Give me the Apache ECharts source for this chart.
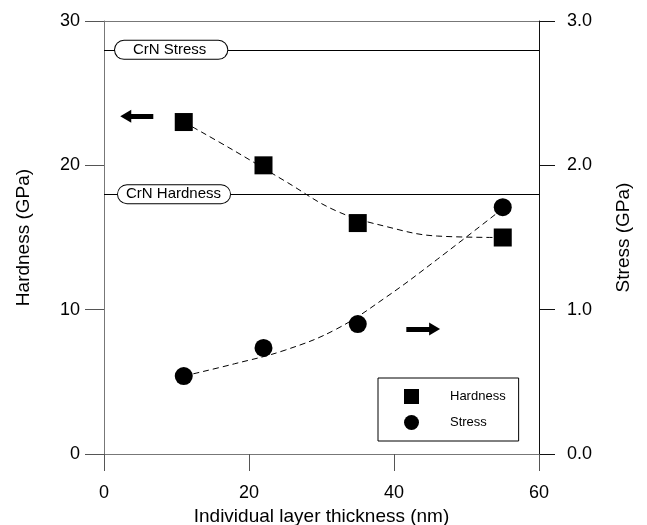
<!DOCTYPE html>
<html><head><meta charset="utf-8">
<script src="https://cdn.jsdelivr.net/npm/echarts@6/dist/echarts.min.js"></script>
<style>html,body{margin:0;padding:0;background:#fff}#c{width:647px;height:525px}</style>
</head><body><div id="c"></div>
<script>
// ---- data ----
const thickness = [11, 22, 35, 55];
const hardness = [23.0, 20.0, 16.0, 15.0];
const stress = [0.54, 0.735, 0.90, 1.71];
const hardnessFitX = [11, 18, 25, 32, 39, 46, 55];
const hardnessFitY = [23.0, 21.0, 18.9, 16.85, 15.75, 15.1, 15.0];
const stressFitX = [11, 18, 25, 32, 39, 46, 55];
const stressFitY = [0.54, 0.625, 0.72, 0.864, 1.09, 1.35, 1.70];
const crnHardness = 18;   // reference line, hardness axis
const crnStress = 2.8;    // reference line, stress axis
const xTicks = [0, 20, 40, 60];
const hardnessTicks = [0, 10, 20, 30];
const stressTicks = ['0.0', '1.0', '2.0', '3.0'];
const arrowHardness = [[6.8, 23.4], [3.0, 23.4]];   // hardness axis units
const arrowStress = [[41.7, 0.866], [45.6, 0.866]]; // stress axis units

const FONT = "'Liberation Sans', Arial, sans-serif";
const zip = (a, b) => a.map((v, i) => [v, b[i]]);
const capsule = {
  show: true, position: 'insideStart', color: '#000', fontSize: 15, fontFamily: FONT,
  backgroundColor: '#fff', borderColor: '#000', borderWidth: 1, borderRadius: 11
};

const chart = echarts.init(document.getElementById('c'), null, {renderer: 'canvas'});
chart.setOption({
  animation: false,
  backgroundColor: '#fff',
  textStyle: {fontFamily: FONT},
  grid: {left: 104, right: 108, top: 21, bottom: 71, outerBoundsMode: 'none', containLabel: false},
  legend: {
    data: [{name: 'Hardness', icon: 'rect'}, {name: 'Stress', icon: 'circle'}],
    orient: 'vertical', left: 378, top: 378,
    itemWidth: 15, itemHeight: 15, itemGap: 11, padding: [11, 13, 11, 26],
    borderColor: '#000', borderWidth: 1, selectedMode: false,
    textStyle: {fontSize: 13, color: '#000', fontFamily: FONT, padding: [0, 0, 0, 26]}
  },
  xAxis: [{
    type: 'value', position: 'bottom', min: xTicks[0], max: xTicks[xTicks.length - 1],
    interval: xTicks[1] - xTicks[0],
    axisLine: {onZero: false, lineStyle: {color: '#777', width: 1}},
    axisTick: {show: true, length: 17, lineStyle: {color: '#555'}},
    axisLabel: {fontSize: 18, color: '#000', margin: 30, fontFamily: FONT},
    splitLine: {show: false},
    name: 'Individual layer thickness (nm)', nameLocation: 'middle', nameGap: 47,
    nameTextStyle: {fontSize: 19, color: '#000', fontFamily: FONT}
  }, {
    type: 'value', position: 'top', min: xTicks[0], max: xTicks[xTicks.length - 1],
    axisLine: {show: true, onZero: false, lineStyle: {color: '#777', width: 1}},
    axisTick: {show: false}, axisLabel: {show: false}, splitLine: {show: false}
  }],
  yAxis: [{
    type: 'value', position: 'left', min: hardnessTicks[0], max: hardnessTicks[hardnessTicks.length - 1],
    interval: hardnessTicks[1] - hardnessTicks[0],
    axisLine: {show: true, onZero: false, lineStyle: {color: '#777', width: 1}},
    axisTick: {show: true, length: 19, lineStyle: {color: '#555'}},
    axisLabel: {fontSize: 18, color: '#000', margin: 24, fontFamily: FONT},
    splitLine: {show: false},
    name: 'Hardness (GPa)', nameLocation: 'middle', nameGap: 71, nameRotate: 90,
    nameTextStyle: {fontSize: 19, color: '#000', fontFamily: FONT}
  }, {
    type: 'value', position: 'right', min: 0, max: 3, interval: 1,
    axisLine: {show: true, onZero: false, lineStyle: {color: '#111', width: 1}},
    axisTick: {show: true, length: 16, lineStyle: {color: '#111'}},
    axisLabel: {fontSize: 18, color: '#000', margin: 28, fontFamily: FONT,
      formatter: v => stressTicks[Math.round(v)]},
    splitLine: {show: false},
    name: 'Stress (GPa)', nameLocation: 'middle', nameGap: 75, nameRotate: 90,
    nameTextStyle: {fontSize: 19, color: '#000', fontFamily: FONT}
  }],
  series: [{
    name: 'Hardness fit', type: 'line', data: zip(hardnessFitX, hardnessFitY),
    smooth: 0.4, showSymbol: false, silent: true, z: 2,
    lineStyle: {color: '#000', width: 1, type: [6, 4]}
  }, {
    name: 'Stress fit', type: 'line', yAxisIndex: 1, data: zip(stressFitX, stressFitY),
    smooth: 0.4, showSymbol: false, silent: true, z: 2,
    lineStyle: {color: '#000', width: 1, type: [6, 4]}
  }, {
    name: 'CrN hardness line', type: 'line', data: [], silent: true,
    markLine: {
      silent: true, symbol: ['none', 'none'], animation: false,
      lineStyle: {color: '#000', width: 1, type: 'solid'},
      label: Object.assign({}, capsule, {distance: 14, padding: [2, 9, 1, 8], formatter: 'CrN Hardness'}),
      emphasis: {disabled: true},
      data: [{yAxis: crnHardness}]
    }
  }, {
    name: 'CrN stress line', type: 'line', yAxisIndex: 1, data: [], silent: true,
    markLine: {
      silent: true, symbol: ['none', 'none'], animation: false,
      lineStyle: {color: '#000', width: 1, type: 'solid'},
      label: Object.assign({}, capsule, {distance: 11, padding: [2, 21, 1, 18], formatter: 'CrN Stress'}),
      emphasis: {disabled: true},
      data: [{yAxis: crnStress}]
    }
  }, {
    name: 'arrow hardness', type: 'line', data: [], silent: true,
    markLine: {
      silent: true, symbol: ['none', 'triangle'], symbolSize: [13, 11], animation: false,
      lineStyle: {color: '#000', width: 5, type: 'solid'}, label: {show: false},
      emphasis: {disabled: true},
      data: [[{coord: arrowHardness[0]}, {coord: arrowHardness[1]}]]
    }
  }, {
    name: 'arrow stress', type: 'line', yAxisIndex: 1, data: [], silent: true,
    markLine: {
      silent: true, symbol: ['none', 'triangle'], symbolSize: [13, 11], animation: false,
      lineStyle: {color: '#000', width: 5, type: 'solid'}, label: {show: false},
      emphasis: {disabled: true},
      data: [[{coord: arrowStress[0]}, {coord: arrowStress[1]}]]
    }
  }, {
    name: 'Hardness', type: 'scatter', data: zip(thickness, hardness),
    symbol: 'rect', symbolSize: 18, itemStyle: {color: '#000', opacity: 1}, z: 5
  }, {
    name: 'Stress', type: 'scatter', yAxisIndex: 1, data: zip(thickness, stress),
    symbol: 'circle', symbolSize: 18, itemStyle: {color: '#000', opacity: 1}, z: 5
  }]
});
</script>
</body></html>
